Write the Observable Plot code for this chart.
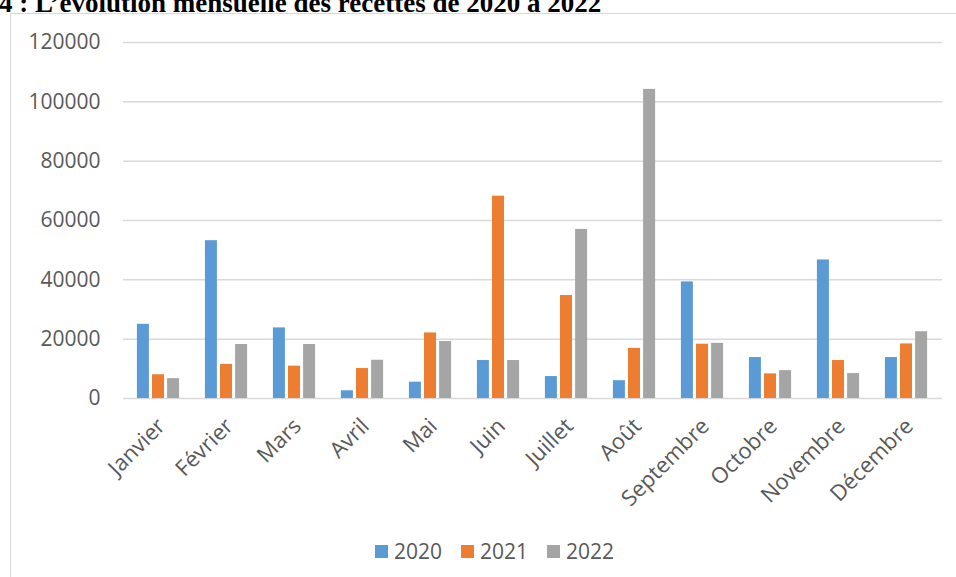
<!DOCTYPE html>
<html><head><meta charset="utf-8">
<script src="https://cdn.jsdelivr.net/npm/d3@7"></script>
<script src="https://cdn.jsdelivr.net/npm/@observablehq/plot@0.6"></script>
<style>
html,body{margin:0;padding:0;background:#fff;width:956px;height:577px;overflow:hidden}
#wrap{position:relative;width:956px;height:577px;overflow:hidden}
#border{position:absolute;left:10px;top:13px;width:980px;height:620px;border:1px solid #d9d9d9;box-sizing:border-box}
#title{position:absolute;left:-1px;top:-12px;font-family:"Liberation Serif";font-weight:bold;font-size:27px;line-height:30px;white-space:nowrap;color:#000}
#chart{position:absolute;left:0;top:0}
#legend{position:absolute;left:375px;top:537px}
#chart svg text{fill:#595959}
#legend .lg-swatches{font:21px "Open Sans" !important;color:#595959 !important;margin:0 !important;min-height:0 !important}
#legend .lg-swatch{margin-right:19px !important}
#legend .lg-swatch>svg{margin-right:6px !important}
</style></head><body>
<div id="wrap"><div id="border"></div><div id="title">4 : L’évolution mensuelle des recettes de 2020 à 2022</div><div id="chart"></div><div id="legend"></div></div>
<script>
const months = ["Janvier","Février","Mars","Avril","Mai","Juin","Juillet","Août","Septembre","Octobre","Novembre","Décembre"];
const years = ["2020","2021","2022"];
const v2020 = [25000, 53200, 23800, 2600, 5500, 12800, 7400, 6000, 39300, 13800, 46700, 13800];
const v2021 = [8000, 11500, 10900, 10100, 22100, 68200, 34700, 16900, 18300, 8300, 12800, 18400];
const v2022 = [6700, 18200, 18200, 12900, 19200, 12800, 57000, 104200, 18600, 9400, 8400, 22500];
const yTicks = [0, 20000, 40000, 60000, 80000, 100000, 120000];
const colors = ["#5B9BD5", "#ED7D31", "#A5A5A5"];

const series = [v2020, v2021, v2022];
const data = years.flatMap((yr, i) => months.map((m, j) => ({month: m, year: yr, value: series[i][j]})));

const pIn = 0.823;
const step = 15.1;
const plot = Plot.plot({
  width: 956, height: 577,
  marginTop: 42, marginBottom: 179, marginLeft: 123, marginRight: 14,
  style: {fontFamily: "Open Sans", fontSize: "21px", background: "transparent", overflow: "visible"},
  x: {domain: months, paddingInner: pIn, paddingOuter: pIn / 2, label: null},
  y: {domain: [0, 120000], ticks: yTicks, label: null},
  color: {domain: years, range: colors},
  marks: [
    Plot.gridY(yTicks, {stroke: "#d9d9d9", strokeOpacity: 1, strokeWidth: 1.5}),
    ...years.map((yr, i) => Plot.barY(data.filter(d => d.year === yr), {x: "month", y: "value", fill: "year", dx: (i - 1) * step})),
    Plot.axisY(yTicks, {tickSize: 0, tickPadding: 23, tickFormat: d3.format("d"), label: null}),
    Plot.axisX({tickRotate: -45, tickSize: 0, tickPadding: 24, dx: 3, fontSize: 22, label: null})
  ]
});
document.getElementById("chart").appendChild(plot);

const leg = Plot.legend({color: {domain: years, range: colors}, swatchSize: 13, className: "lg"});
document.getElementById("legend").appendChild(leg);
</script>
</body></html>
